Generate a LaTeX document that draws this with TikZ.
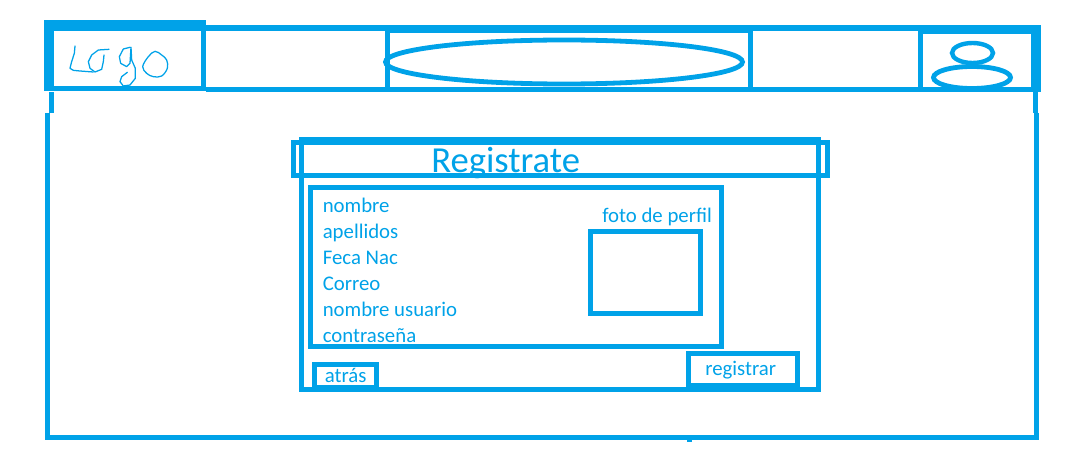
\documentclass[tikz,border=0pt]{standalone}
\usepackage{fontspec}
\setmainfont{Carlito}
\definecolor{sk}{HTML}{00A2E8}
\tikzset{
  x=0.75pt,y=-0.75pt,
  band/.style={fill=sk,draw=none},
  frame/.style={draw=sk,line width=3.75pt,miter limit=10},
  ring/.style={draw=sk,line width=3.6pt},
  ink/.style={draw=sk,line width=0.95pt,line join=round,line cap=round},
  txt/.style={text=sk,anchor=base west,inner sep=0pt,font=\fontsize{15.6pt}{17pt}\selectfont},
  bigtxt/.style={text=sk,anchor=base west,inner sep=0pt,font=\fontsize{27.5pt}{30pt}\selectfont}
}
\begin{document}
\begin{tikzpicture}
\useasboundingbox (0,0) rectangle (1077,456);
% text
\node[bigtxt] (title) at (431,172.5) {Registrate};
\node[txt] (f1) at (322.5,212) {nombre};
\node[txt] (f2) at (322.5,238) {apellidos};
\node[txt] (f3) at (322.5,264) {Feca Nac};
\node[txt] (f4) at (322.5,290) {Correo};
\node[txt] (f5) at (322.5,316) {nombre usuario};
\node[txt] (f6) at (322.5,342) {contraseña};
\node[txt] (foto) at (602,222) {foto de perfil};
\node[txt] (back) at (324.5,382) {atrás};
\node[txt] (reg) at (705,375) {registrar};
% header
\fill[band] (44,20) rectangle (206,31);
\fill[band] (44,20) rectangle (54,91);
\fill[band] (201,20) rectangle (206,91);
\fill[band] (44,86) rectangle (206,91);
\fill[band] (206,25) rectangle (1041,31);
\fill[band] (206,87) rectangle (1041,92);
\fill[band] (1031,25) rectangle (1041,92);
\fill[band] (918,31) rectangle (923,92);
\fill[band] (923,31) rectangle (1031,34);
\fill[band] (385,31) rectangle (390,92);
\fill[band] (748,31) rectangle (753,92);
\fill[band] (390,31) rectangle (748,33);
% search ellipse and avatar
\draw[ring] (564,62) ellipse [x radius=178.5,y radius=22];
\draw[ring,line width=3.3pt] (972.5,53) ellipse [x radius=20.5,y radius=10];
\draw[ring] (972,77.5) ellipse [x radius=38.5,y radius=11];
% page body
\fill[band] (49,92) rectangle (54,113);
\fill[band] (1033,92) rectangle (1038,113);
\fill[band] (45,113) rectangle (50,440);
\fill[band] (1034,113) rectangle (1039,440);
\fill[band] (45,435) rectangle (1039,440);
\fill[band] (687,440) rectangle (692,442);
% form
\draw[frame] (301.5,139.5) rectangle (818.5,389.5);
\draw[frame] (293.5,142.5) rectangle (827,175.5);
\draw[frame] (310.5,187.5) rectangle (721.5,346.5);
\draw[frame] (590.5,231.5) rectangle (700.5,313.5);
\draw[frame] (688.5,353.5) rectangle (797.5,385);
\draw[frame] (314.5,364.5) rectangle (376.5,387);
% hand-drawn logo
\begin{scope}[shift={(30,10)},x=0.25pt,y=-0.25pt]
\draw[ink] (135,108)--(133,130)--(125,155)--(120,175)--(130,181)--(150,183)--(190,186);
\draw[ink] (237,118)--(205,120)--(185,135)--(175,155)--(180,175)--(195,186)--(215,178)--(220,155)--(222,135);
\draw[ink] (300,112)--(280,117)--(268,140)--(272,160)--(290,170)--(300,160)--(303,112)--(305,150)--(316,175)--(316,205)--(300,225)--(280,228)--(270,215)--(275,200)--(292,187);
\draw[ink] plot[smooth cycle,tension=0.6] coordinates {(375,124)(355,140)(338,170)(350,190)(370,200)(395,198)(412,175)(410,150)(395,135)};
\end{scope}
\end{tikzpicture}
\end{document}
